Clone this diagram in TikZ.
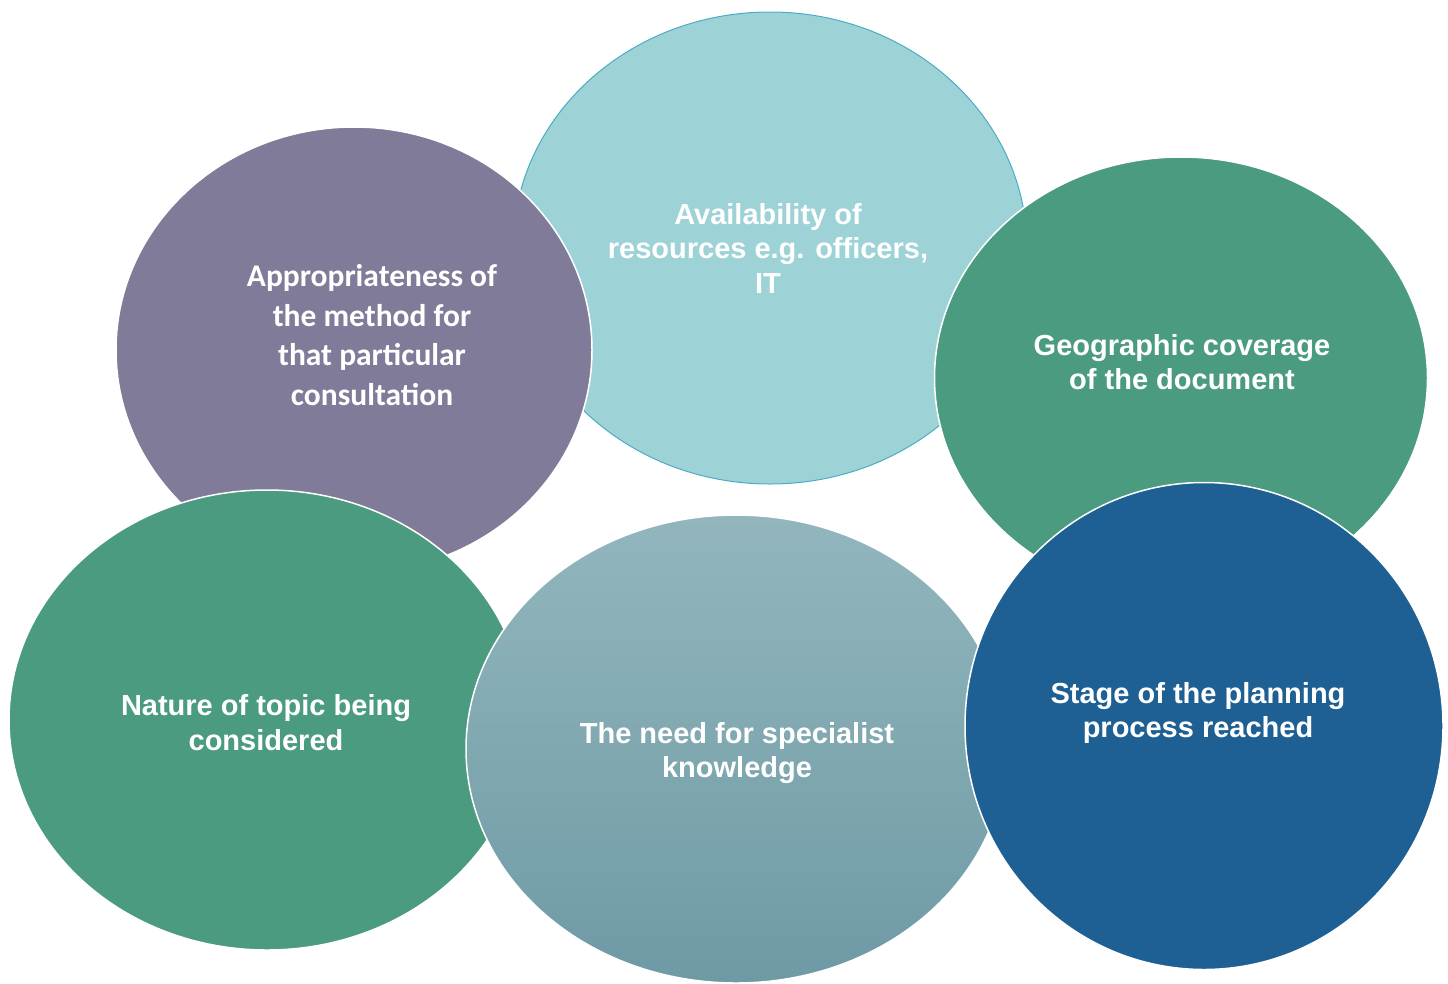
\documentclass[tikz,border=0pt]{standalone}
\usepackage{fontspec}
\setmainfont{Liberation Sans}
\newfontfamily\calib{Carlito}
\usetikzlibrary{shapes.geometric}
\definecolor{tealfill}{HTML}{9DD2D7}
\definecolor{tealline}{HTML}{4BACC6}
\definecolor{purp}{HTML}{7F7B98}
\definecolor{grn}{HTML}{4B9B80}
\definecolor{blu}{HTML}{1E6093}
\definecolor{midtop}{HTML}{93B6BD}
\definecolor{midbot}{HTML}{6E9AA5}
\tikzset{
  blob/.style={ellipse, inner sep=0pt, draw=white, line width=1.5pt},
  lbl/.style={text=white, align=center, font=\bfseries\fontsize{29}{34.5}\selectfont},
  lblc/.style={text=white, align=center, font=\calib\bfseries\fontsize{31.5}{39.7}\selectfont},
}
\begin{document}
\begin{tikzpicture}
\useasboundingbox (0pt,0pt) rectangle (1448pt,-983pt);
\node[blob, draw=tealline, line width=1pt, fill=tealfill, minimum width=514pt, minimum height=472pt] (avail) at (770pt,-248pt) {};
\node[blob, fill=purp, minimum width=476pt, minimum height=446pt] (approp) at (354pt,-350pt) {};
\node[blob, fill=grn, minimum width=493pt, minimum height=442pt] (geo) at (1181pt,-378pt) {};
\node[blob, fill=grn, minimum width=516pt, minimum height=460pt] (nature) at (267pt,-720pt) {};
\node[blob, top color=midtop, bottom color=midbot, minimum width=540pt, minimum height=468pt] (need) at (736pt,-749pt) {};
\node[blob, fill=blu, minimum width=478pt, minimum height=487pt] (stage) at (1204pt,-726pt) {};
\node[lbl] (tavail) at (768pt,-248pt) {Availability of\\resources e.g. officers,\\IT};
\node[lblc] (tapprop) at (372pt,-335pt) {Appropriateness of\\the method for\\that particular\\consultation};
\node[lbl] (tgeo) at (1182pt,-362pt) {Geographic coverage\\of the document};
\node[lbl] (tnature) at (266pt,-722.5pt) {Nature of topic being\\considered};
\node[lbl] (tneed) at (737pt,-753pt) {The need for specialist\\knowledge};
\node[lbl] (tstage) at (1198pt,-713pt) {Stage of the planning\\process reached};
\end{tikzpicture}
\end{document}
